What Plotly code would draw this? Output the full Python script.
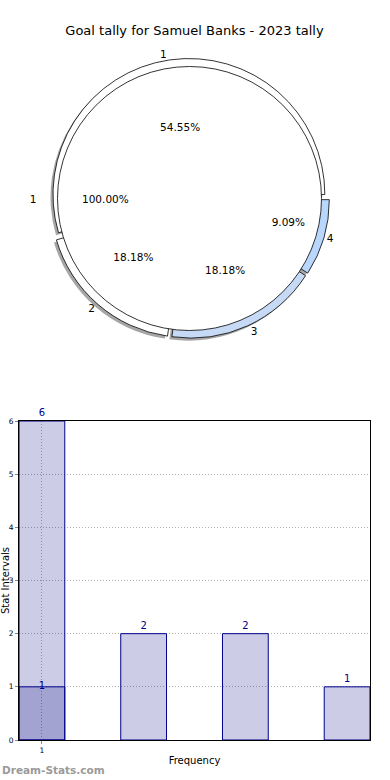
import math
import plotly.graph_objects as go

# ---- data ----
title_text = "Goal tally for Samuel Banks - 2023 tally"
pie_labels = ["1", "2", "3", "4"]
pie_values = [6, 2, 2, 1]
pie_colors = ["#ffffff", "#ffffff", "#c6daf6", "#b9d7fc"]
total_labels = ["1"]
total_values = [11]

bar_positions = [0, 1, 2, 3]
bar_values = [6, 2, 2, 1]
overlay_positions = [0]
overlay_values = [1]
x_tick_vals = [0]
x_tick_text = ["1"]
y_ticks = [0, 1, 2, 3, 4, 5, 6]

W, H = 390, 780
FONT = "DejaVu Sans"

def px_dom_x(cx, half):
    return [(cx - half) / W, (cx + half) / W]

def px_dom_y(cy, half):
    return [(H - cy - half) / H, (H - cy + half) / H]

cx, cy = 189.5, 198.5
pull = 0.03
outer_half = 140
inner_half = 132
label_half = 150
sh = 2.5  # shadow offset

# first slice starts at 3 o'clock and runs counterclockwise (plotly: rotation is where it ends)
outer_rotation = 90 - 360.0 * pie_values[0] / sum(pie_values)
disc_rotation = 90

fig = go.Figure()

# shadow of outer pie
fig.add_trace(go.Pie(
    labels=pie_labels, values=pie_values, sort=False, direction="counterclockwise",
    rotation=outer_rotation, pull=[pull] * len(pie_values),
    marker=dict(colors=["rgba(0,0,0,0.35)"] * len(pie_values), line=dict(width=0)),
    textinfo="none", hoverinfo="skip", showlegend=False,
    domain=dict(x=px_dom_x(cx - sh, outer_half), y=px_dom_y(cy + sh, outer_half)),
))
# outer pie (exploded)
fig.add_trace(go.Pie(
    labels=pie_labels, values=pie_values, sort=False, direction="counterclockwise",
    rotation=outer_rotation, pull=[pull] * len(pie_values),
    marker=dict(colors=pie_colors, line=dict(color="#000000", width=0.8)),
    textinfo="label", textposition="outside",
    outsidetextfont=dict(family=FONT, size=10.5, color="#000000"),
    showlegend=False,
    domain=dict(x=px_dom_x(cx, outer_half), y=px_dom_y(cy, outer_half)),
))
# inner full disc
fig.add_trace(go.Pie(
    labels=total_labels, values=total_values, sort=False, direction="counterclockwise",
    rotation=disc_rotation,
    marker=dict(colors=["#ffffff"], line=dict(color="#000000", width=0.8)),
    textinfo="none",
    showlegend=False,
    domain=dict(x=px_dom_x(cx, inner_half), y=px_dom_y(cy, inner_half)),
))
# outside label of the full disc (transparent carrier a bit larger than the disc)
fig.add_trace(go.Pie(
    labels=total_labels, values=total_values, sort=False, direction="counterclockwise",
    rotation=disc_rotation,
    marker=dict(colors=["rgba(0,0,0,0)"], line=dict(width=0)),
    textinfo="label", textposition="outside",
    outsidetextfont=dict(family=FONT, size=10.5, color="#000000"),
    hoverinfo="skip", showlegend=False,
    domain=dict(x=px_dom_x(cx, label_half), y=px_dom_y(cy, label_half)),
))
# percentage labels for the outer slices
fig.add_trace(go.Pie(
    labels=pie_labels, values=pie_values, sort=False, direction="counterclockwise",
    rotation=outer_rotation,
    marker=dict(colors=["rgba(0,0,0,0)"] * len(pie_values), line=dict(width=0)),
    texttemplate="%{percent:.2%}", textposition="inside", insidetextorientation="horizontal",
    insidetextfont=dict(family=FONT, size=10.5, color="#000000"),
    hoverinfo="skip", showlegend=False,
    domain=dict(x=px_dom_x(cx, inner_half), y=px_dom_y(cy - 6, inner_half)),
))

# percentage of the full disc, placed at 0.6 r along its mid angle
disc_pct = 100.0 * total_values[0] / sum(total_values)
disc_mid = math.radians(90 - disc_rotation - 180)  # standard angle of slice middle
disc_r = 140
pct_x = cx + 0.6 * disc_r * math.cos(disc_mid)
pct_y = cy - 0.6 * disc_r * math.sin(disc_mid)

# bars
bar_fill = "rgba(0,0,128,0.2)"
fig.add_trace(go.Bar(
    x=bar_positions, y=bar_values, width=0.45,
    marker=dict(color=bar_fill, line=dict(color="#00008b", width=1)),
    text=bar_values, textposition="outside", cliponaxis=False,
    textfont=dict(family=FONT, size=10, color="#00008b"),
    showlegend=False, xaxis="x", yaxis="y",
))
fig.add_trace(go.Bar(
    x=overlay_positions, y=overlay_values, width=0.45,
    marker=dict(color=bar_fill, line=dict(color="#00008b", width=1)),
    showlegend=False, xaxis="x", yaxis="y",
))
fig.add_trace(go.Scatter(
    x=overlay_positions, y=overlay_values, mode="text", text=[str(v) for v in overlay_values],
    textposition="middle center", cliponaxis=False,
    textfont=dict(family=FONT, size=10, color="#00008b"),
    showlegend=False, hoverinfo="skip", xaxis="x", yaxis="y",
))

fig.update_layout(
    template="none",
    width=W, height=H,
    margin=dict(l=0, r=0, t=0, b=0),
    paper_bgcolor="white", plot_bgcolor="white",
    barmode="overlay",
    font=dict(family=FONT, color="#000000"),
    title=dict(text=title_text, xref="paper", x=194.5 / W, xanchor="center",
               y=1 - 30 / H, yanchor="middle",
               font=dict(family=FONT, size=13, color="#000000")),
    xaxis=dict(
        domain=[19 / W, 370 / W], range=[-0.225, 3.225], automargin=False,
        tickmode="array", tickvals=x_tick_vals, ticktext=x_tick_text,
        tickfont=dict(family=FONT, size=7.5, color="#000000"),
        ticks="outside", ticklen=3, tickcolor="#888888",
        showgrid=True, gridcolor="#b0b0b0", griddash="1px,2px", gridwidth=1,
        showline=True, linecolor="#000000", linewidth=1, mirror=True,
        zeroline=False,
        title=dict(text="Frequency", font=dict(family=FONT, size=10, color="#000000"), standoff=2),
    ),
    yaxis=dict(
        domain=[1 - 740 / H, 1 - 421 / H], range=[0, 6], automargin=False,
        tickmode="array", tickvals=y_ticks,
        tickfont=dict(family=FONT, size=7.5, color="#000000"),
        ticks="outside", ticklen=3, tickcolor="#888888",
        showgrid=True, gridcolor="#b0b0b0", griddash="1px,2px", gridwidth=1,
        showline=True, linecolor="#000000", linewidth=1, mirror=True,
        zeroline=False,
        title=dict(text="Stat Intervals", font=dict(family=FONT, size=10, color="#000000"), standoff=0),
    ),
    annotations=[
        dict(
            text=f"{disc_pct:.2f}%", xref="paper", yref="paper", x=pct_x / W, y=1 - pct_y / H,
            xanchor="center", yanchor="middle", showarrow=False,
            font=dict(family=FONT, size=10.5, color="#000000"),
        ),
        dict(
            text="<b>Dream-Stats.com</b>", xref="paper", yref="paper", x=0, y=1 - 770 / H,
            xanchor="left", yanchor="middle", showarrow=False,
            font=dict(family=FONT, size=10.5, color="#9a9a9a"),
        ),
    ],
)

fig.write_html("out.html", config={"displayModeBar": False},
               post_script="document.body.style.margin='0';")
